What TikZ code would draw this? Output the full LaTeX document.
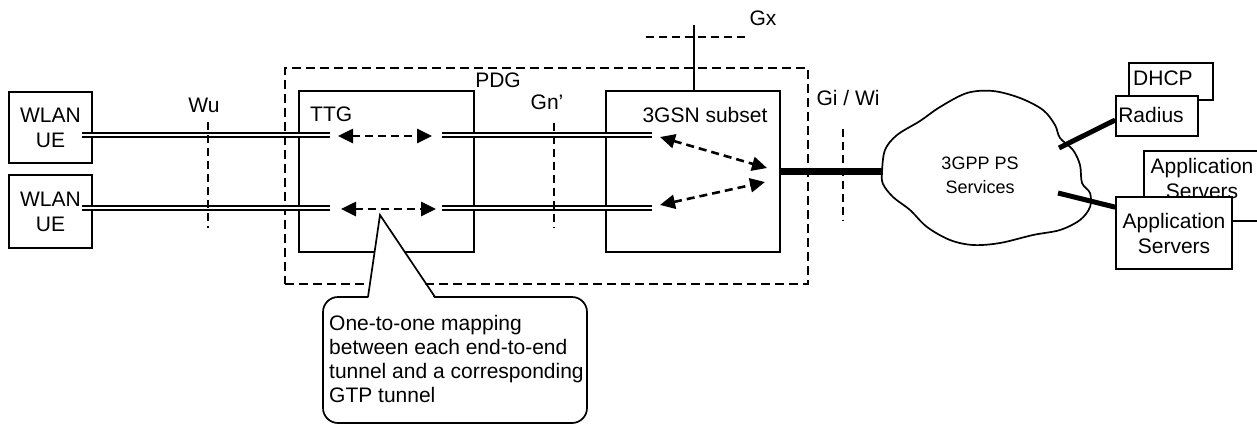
\documentclass[tikz,border=0pt]{standalone}
\usepackage{fontspec}
\setmainfont{Liberation Sans}
\usetikzlibrary{arrows.meta}
\begin{document}
\begin{tikzpicture}[x=1pt,y=-1pt,
  box/.style={draw,line width=1.7pt,fill=white,inner sep=0pt},
  lbl/.style={font=\fontsize{21}{25}\selectfont,inner sep=0pt},
  small/.style={font=\fontsize{18}{24}\selectfont,inner sep=0pt},
  iface/.style={line width=2.6pt,dash pattern=on 8pt off 5pt},
  pdgline/.style={draw,line width=2.4pt,dash pattern=on 9pt off 5pt,inner sep=0pt},
  tunnel/.style={double,line width=1.5pt,double distance=2.8pt},
  map/.style={line width=2.6pt,dash pattern=on 8pt off 5pt,{Triangle[length=15pt,width=14pt]}-{Triangle[length=15pt,width=14pt]}},
  link/.style={line width=5pt},
  thin/.style={line width=1.7pt}]
\useasboundingbox (0,0) rectangle (1257,426);
\clip (0,0) rectangle (1257,426);

% PDG
\node[pdgline,minimum width=523pt,minimum height=216pt] (pdg) at (546.5,176) {};
\node[lbl] (pdglbl) at (498,80) {PDG};

% boxes
\node[box,lbl,align=center,minimum width=83pt,minimum height=71pt] (ue1) at (50.5,127.5) {WLAN\\UE};
\node[box,lbl,align=center,minimum width=83pt,minimum height=73pt] (ue2) at (50.5,211.5) {WLAN\\UE};
\node[box,minimum width=175pt,minimum height=161pt] (ttg) at (386.5,171.5) {};
\node[lbl,anchor=west] (ttglbl) at (310,114) {TTG};
\node[box,minimum width=174pt,minimum height=161pt] (gsn) at (693,171.5) {};
\node[lbl] (gsnlbl) at (705,115) {3GSN subset};

% interface labels
\node[lbl] (wulbl) at (204,105) {Wu};
\node[lbl] (gnlbl) at (547,102) {Gn’};
\node[lbl] (gilbl) at (848,98) {Gi / Wi};
\node[lbl] (gxlbl) at (763,18) {Gx};

% tunnels
\coordinate (t1a) at (82,135);  \coordinate (t1b) at (330,135);
\coordinate (t1c) at (442,135); \coordinate (t1d) at (652,135);
\coordinate (t2a) at (82,208);  \coordinate (t2b) at (330,208);
\coordinate (t2c) at (442,208); \coordinate (t2d) at (652,208);
\draw[tunnel] (t1a) -- (t1b);
\draw[tunnel] (t1c) -- (t1d);
\draw[tunnel] (t2a) -- (t2b);
\draw[tunnel] (t2c) -- (t2d);

% interface dashed lines
\coordinate (wut) at (208,122); \coordinate (wub) at (208,228);
\coordinate (gnt) at (554,123); \coordinate (gnb) at (554,228);
\coordinate (git) at (843,129); \coordinate (gib) at (843,221);
\coordinate (gxl) at (646,37);  \coordinate (gxr) at (747,37);
\coordinate (gxtop) at (694,25);
\draw[iface] (wut) -- (wub);
\draw[iface] (gnt) -- (gnb);
\draw[iface] (gxl) -- (gxr);
\draw[thin] (gxtop) -- (gxtop |- gsn.north);

% mapping arrows
\coordinate (m1a) at (338,136); \coordinate (m1b) at (432,136);
\coordinate (m2a) at (341,209); \coordinate (m2b) at (436,209);
\coordinate (m3a) at (660,137); \coordinate (m3b) at (767,168);
\coordinate (m4a) at (660,205); \coordinate (m4b) at (765,182);
\draw[map] (m1a) -- (m1b);
\draw[map] (m2a) -- (m2b);
\draw[map] (m3a) -- (m3b);
\draw[map] (m4a) -- (m4b);

% cloud
\draw[thin,fill=white] plot[smooth cycle,tension=0.55] coordinates {
 (882,172) (885,150) (897,135) (920,121) (940,107) (967,93) (993,91)
 (1020,98) (1043,110) (1055,125) (1060,138) (1073,150) (1080,165)
 (1082,183) (1090,193) (1090,207) (1080,220) (1060,230) (1033,235)
 (1000,243) (973,245) (950,240) (927,227) (910,210) (893,197) (883,184)};
\node[small,align=center] (cltxt) at (980,175) {3GPP PS\\Services};
\coordinate (clw) at (883,171.5);
\coordinate (clr) at (1059,148);
\coordinate (cla) at (1058,193);

\draw[line width=7pt] (gsn.east) -- (clw);
\draw[iface] (git) -- (gib);

% servers
\node[box,minimum width=84pt,minimum height=37pt] (dhcp) at (1171,81.5) {};
\node[lbl,anchor=west] (dhcptxt) at (1133,78) {DHCP};
\node[box,minimum width=82pt,minimum height=40pt] (radius) at (1157,116) {};
\node[lbl] (radtxt) at (1151,115) {Radius};
\node[box,minimum width=160pt,minimum height=70pt] (appb) at (1224,186) {};
\node[lbl,align=center] (appbtxt) at (1202,178.5) {Application\\Servers};
\node[box,lbl,align=center,minimum width=116pt,minimum height=72pt] (appf) at (1174,233) {Application\\Servers};

\draw[link] (clr) -- ([yshift=-4pt]radius.west);
\draw[link] (cla) -- ([yshift=-11pt]appf.north west);

% callout
\node[draw,thin,fill=white,rounded corners=15pt,minimum width=264pt,minimum height=126pt] (call) at (455,360) {};
\coordinate (p1) at (368,297); \coordinate (tip) at (380,215); \coordinate (p2) at (435,297);
\fill[white] ([yshift=-2.5pt]p1) -- (tip) -- ([yshift=-2.5pt]p2) -- cycle;
\draw[thin,line join=miter] (p1) -- (tip) -- (p2);
\node[lbl,font=\fontsize{21}{24.3}\selectfont,align=left,anchor=west] (calltxt) at (329,359)
 {One-to-one mapping\\between each end-to-end\\tunnel and a corresponding\\GTP tunnel};
\end{tikzpicture}
\end{document}
